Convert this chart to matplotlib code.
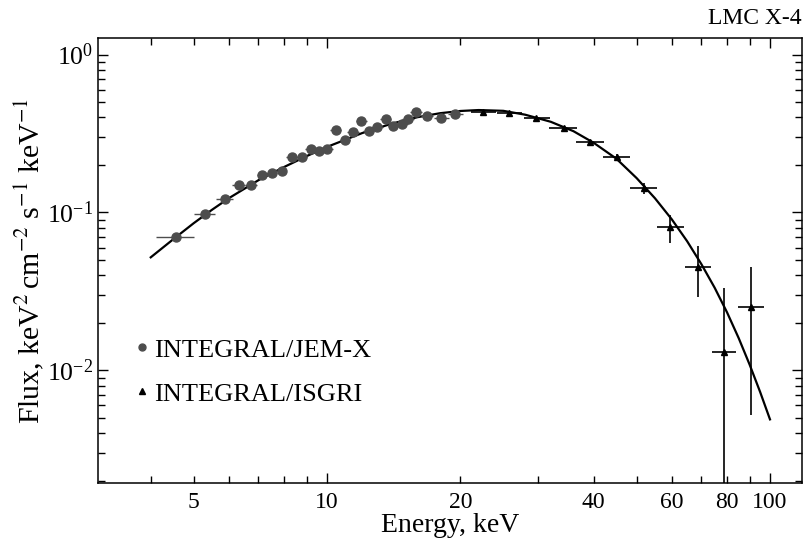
import matplotlib
matplotlib.use('Agg')
import matplotlib.pyplot as plt
from matplotlib.lines import Line2D
from matplotlib.ticker import FixedLocator, FuncFormatter, LogLocator, NullFormatter

plt.rcParams['font.family'] = 'Liberation Serif'
plt.rcParams['mathtext.fontset'] = 'stix'

# INTEGRAL/JEM-X points (keV, keV^2 cm^-2 s^-1 keV^-1)
jem_e = [4.56, 5.30, 5.87, 6.32, 6.74, 7.14, 7.50, 7.90, 8.32, 8.78, 9.19, 9.59,
         10.0, 10.48, 10.98, 11.47, 11.95, 12.42, 12.97, 13.57, 14.11, 14.75,
         15.23, 15.88, 16.84, 18.11, 19.49]
jem_f = [0.0703, 0.0978, 0.1217, 0.149, 0.149, 0.1735, 0.1786, 0.183, 0.2255, 0.2235,
         0.251, 0.246, 0.251, 0.333, 0.288, 0.325, 0.38, 0.328, 0.349, 0.391, 0.353,
         0.363, 0.391, 0.435, 0.406, 0.398, 0.418]
jem_xerr = [0.44, 0.29, 0.26, 0.22, 0.2, 0.2, 0.2, 0.2, 0.25, 0.25, 0.25, 0.25,
            0.3, 0.3, 0.3, 0.35, 0.35, 0.35, 0.4, 0.4, 0.4, 0.45, 0.45, 0.5, 0.55,
            0.7, 0.75]

# INTEGRAL/ISGRI points
isgri_e = [22.5, 25.75, 29.7, 34.2, 39.3, 45.1, 51.9, 59.6, 68.7, 78.9, 90.6]
isgri_f = [0.431, 0.424, 0.398, 0.341, 0.278, 0.2255, 0.142, 0.0813, 0.045, 0.01315, 0.0253]
isgri_xlo = [1.4, 1.6, 1.9, 2.5, 2.9, 3.1, 3.6, 4.0, 4.5, 5.0, 5.8]
isgri_xhi = [1.6, 1.8, 2.2, 2.4, 2.9, 3.1, 3.6, 4.2, 5.0, 4.9, 6.5]
isgri_ylo = [0.004, 0.004, 0.005, 0.005, 0.006, 0.008, 0.011, 0.017, 0.016, 0.01314, 0.0201]
isgri_yhi = [0.004, 0.004, 0.005, 0.005, 0.006, 0.008, 0.012, 0.015, 0.016, 0.020, 0.0201]

# model curve
model_e = [4.0, 4.5, 5.0, 5.5, 6.0, 7.0, 8.0, 9.0, 10, 12, 14, 16, 18, 20, 22, 25, 28,
           32, 36, 40, 45, 50, 55, 60, 65, 70, 75, 80, 85, 90, 95, 100]
model_f = [0.052, 0.0678, 0.0855, 0.104, 0.123, 0.160, 0.194, 0.2275, 0.260, 0.318,
           0.365, 0.401, 0.425, 0.439, 0.445, 0.440, 0.416, 0.375, 0.327, 0.276, 0.219,
           0.165, 0.123, 0.0906, 0.0658, 0.0471, 0.0334, 0.0233, 0.0160, 0.01085,
           0.00731, 0.0049]

x_labels = [5, 20, 40, 60, 80]

fig = plt.figure(figsize=(8.04, 5.42), dpi=100)
ax = fig.add_axes([0.1223, 0.1083, 0.8752, 0.8210])

ax.plot(model_e, model_f, color='black', lw=1.6, zorder=2)
ax.errorbar(jem_e, jem_f, xerr=jem_xerr, fmt='o', color='#4d4d4d', ms=6.5,
            elinewidth=1.0, capsize=0, zorder=3)
ax.errorbar(isgri_e, isgri_f, xerr=[isgri_xlo, isgri_xhi], yerr=[isgri_ylo, isgri_yhi],
            fmt='^', color='black', ms=4.5, elinewidth=1.2, capsize=0, zorder=3)

ax.set_xscale('log')
ax.set_yscale('log')
ax.set_xlim(3.046, 118.1)
ax.set_ylim(0.00193, 1.266)

ax.xaxis.set_major_locator(FixedLocator([10, 100]))
ax.xaxis.set_major_formatter(FuncFormatter(lambda v, p: '%g' % v))
ax.xaxis.set_minor_locator(LogLocator(base=10, subs=range(2, 10), numticks=20))
ax.xaxis.set_minor_formatter(FuncFormatter(lambda v, p: '%g' % v if round(v) in x_labels and abs(v - round(v)) < 1e-6 else ''))
ax.yaxis.set_minor_locator(LogLocator(base=10, subs=range(2, 10), numticks=20))
ax.yaxis.set_minor_formatter(NullFormatter())

ax.tick_params(which='both', direction='in', top=True, right=True, labelsize=17, width=1.0)
ax.tick_params(axis='y', labelsize=18.5)
ax.tick_params(which='major', length=7)
ax.tick_params(which='minor', length=4.8)
ax.tick_params(axis='x', which='both', pad=6)
for s in ax.spines.values():
    s.set_linewidth(1.1)

ax.set_xlabel('Energy, keV', fontsize=20, labelpad=0)
ax.set_ylabel(r'Flux, keV$^2\,$cm$^{-2}$ s$^{-1}$ keV$^{-1}$', fontsize=21.5, labelpad=1)
ax.text(1.0, 1.02, 'LMC X-4', transform=ax.transAxes, ha='right', va='bottom', fontsize=17)

handles = [Line2D([], [], marker='o', ls='none', color='#4d4d4d', ms=5),
           Line2D([], [], marker='^', ls='none', color='black', ms=4)]
ax.legend(handles, ['INTEGRAL/JEM-X', 'INTEGRAL/ISGRI'], loc='upper left',
          bbox_to_anchor=(0.036, 0.35), frameon=False, fontsize=19, handlelength=0.6,
          handletextpad=0.15, labelspacing=0.78, borderaxespad=0)

fig.savefig('out.png', dpi=100)
